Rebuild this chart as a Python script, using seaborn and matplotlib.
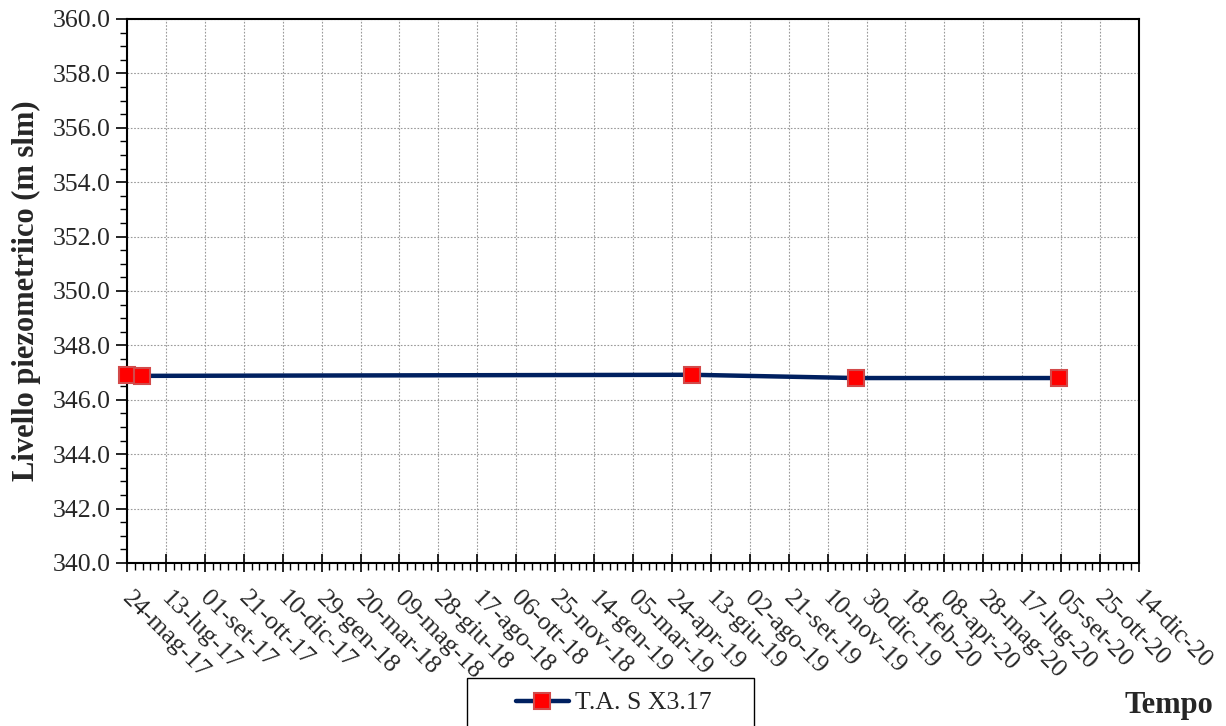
import matplotlib
matplotlib.use("Agg")
import matplotlib.pyplot as plt
import matplotlib.dates as mdates
import matplotlib.transforms as mtransforms
from matplotlib.ticker import MultipleLocator, FixedLocator, FormatStrFormatter
from matplotlib.lines import Line2D
from matplotlib.patches import Rectangle
import seaborn as sns
import pandas as pd

# ---- data ----
dates = ["2017-05-24", "2017-06-12", "2019-05-20", "2019-12-16", "2020-09-02"]
levels = [346.90, 346.88, 346.92, 346.80, 346.80]
series_name = "T.A. S X3.17"

tick_labels = ["24-mag-17", "13-lug-17", "01-set-17", "21-ott-17", "10-dic-17",
               "29-gen-18", "20-mar-18", "09-mag-18", "28-giu-18", "17-ago-18",
               "06-ott-18", "25-nov-18", "14-gen-19", "05-mar-19", "24-apr-19",
               "13-giu-19", "02-ago-19", "21-set-19", "10-nov-19", "30-dic-19",
               "18-feb-20", "08-apr-20", "28-mag-20", "17-lug-20", "05-set-20",
               "25-ott-20", "14-dic-20"]
x_start = "2017-05-24"
x_end = "2020-12-14"
y_min, y_max = 340.0, 360.0

df = pd.DataFrame({"Data": pd.to_datetime(dates), "Livello": levels,
                   "Serie": series_name})

LINE_COLOR = "#002060"
FACE = "#FF0000"
EDGE = "#D24A4A"

sns.set_style("white")
plt.rcParams["font.family"] = ["Liberation Serif", "DejaVu Serif"]

W, H = 1226, 726
fig = plt.figure(figsize=(W / 100, H / 100), dpi=100)
ax = fig.add_axes([127 / W, 1 - 563 / H, (1139 - 127) / W, (563 - 19) / H])

sns.lineplot(data=df, x="Data", y="Livello", hue="Serie", ax=ax,
             palette=[LINE_COLOR], linewidth=3.2, marker="s", markersize=11,
             markerfacecolor=FACE, markeredgecolor=EDGE,
             markeredgewidth=1.5, legend=False, clip_on=False, zorder=5)

# x axis
x0 = mdates.date2num(pd.Timestamp(x_start))
x1 = mdates.date2num(pd.Timestamp(x_end))
ax.set_xlim(x0, x1)
tick_dates = pd.date_range(x_start, x_end, freq="50D")
ax.xaxis.set_major_locator(FixedLocator(mdates.date2num(tick_dates)))
minor_dates = pd.date_range(x_start, x_end, freq="10D")
ax.xaxis.set_minor_locator(FixedLocator(mdates.date2num(minor_dates)))

# y axis
ax.set_ylim(y_min, y_max)
ax.yaxis.set_major_locator(MultipleLocator(2))
ax.yaxis.set_minor_locator(MultipleLocator(0.5))
ax.yaxis.set_major_formatter(FormatStrFormatter("%.1f"))

ax.tick_params(axis="x", which="major", direction="inout", length=13, width=1.2,
               color="black", pad=8, bottom=True)
ax.tick_params(axis="x", which="minor", direction="out", length=5, width=1.0,
               color="black", bottom=True)
ax.tick_params(axis="y", which="major", direction="out", length=8, width=1.2,
               color="black", pad=4, left=True, labelsize=18.5)
ax.tick_params(axis="y", which="minor", direction="out", length=5, width=1.0,
               color="black", left=True)

ax.set_xticklabels(tick_labels, rotation=-45, ha="left", va="top",
                   rotation_mode="anchor", fontsize=18.5)
offset = mtransforms.ScaledTranslation(6 / 100, -4 / 100, fig.dpi_scale_trans)
for lab in ax.get_xticklabels():
    lab.set_transform(lab.get_transform() + offset)

ax.grid(True, which="major", color="#9a9a9a", linestyle=(0, (1.5, 1.5)),
        linewidth=0.8)
for sp in ax.spines.values():
    sp.set_visible(True)
    sp.set_color("black")
    sp.set_linewidth(1.5)

ax.set_xlabel("")
ax.set_ylabel("Livello piezometriico (m slm)", fontsize=22, fontweight="bold")
ax.yaxis.set_label_coords(-0.085, 0.5)

# legend
handle = Line2D([], [], color=LINE_COLOR, linewidth=3.2, marker="s",
                markersize=11, markerfacecolor=FACE,
                markeredgecolor=EDGE, markeredgewidth=1.5)
leg = fig.legend([handle], [series_name], loc="center",
                 bbox_to_anchor=(614 / W, 1 - 703 / H),
                 bbox_transform=fig.transFigure, fontsize=18.5,
                 frameon=False, handlelength=2.05, handletextpad=0.25,
                 borderpad=0, borderaxespad=0)
fig.patches.append(Rectangle((467 / W, 1 - 740 / H), (754 - 467) / W, (740 - 678) / H,
                             transform=fig.transFigure, fill=False,
                             edgecolor="black", linewidth=1.0))

fig.text(1169 / W, 1 - 705 / H, "Tempo", fontsize=22, fontweight="bold",
         ha="center", va="center")

fig.savefig("out.png", dpi=100, facecolor="white")
